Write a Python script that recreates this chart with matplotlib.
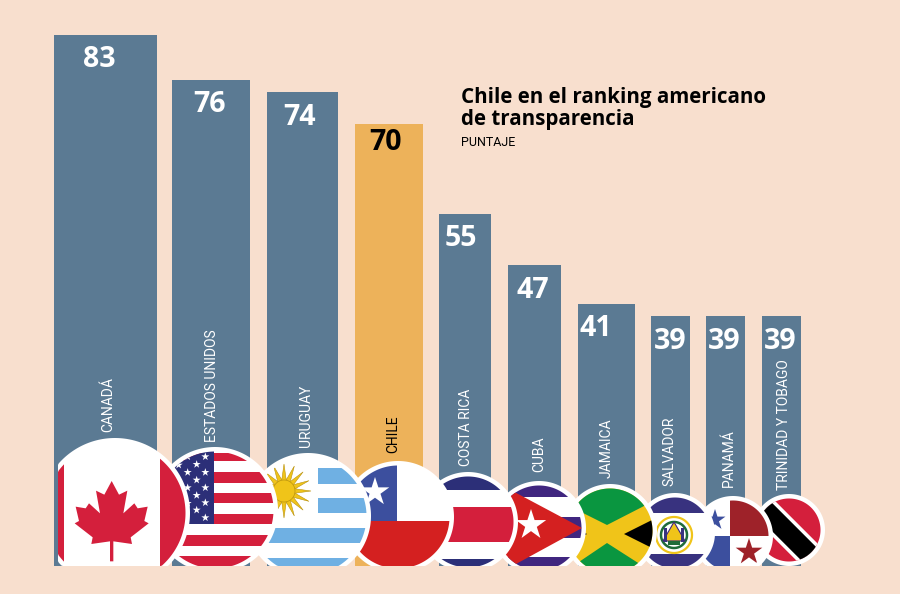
#!/usr/bin/env python3
"""Chile en el ranking americano de transparencia."""

import matplotlib

matplotlib.use("Agg")
import matplotlib.pyplot as plt
import numpy as np
from matplotlib.patches import Polygon

BG = "#f8dfce"
SLATE = "#5b7a93"
ORANGE = "#edb25a"
WHITE = "#ffffff"
FLAG_RED = "#d41f3c"
CHILE_RED = "#d42020"
NAVY = "#2c2f78"
ROYAL = "#3c4f9e"
PURPLE = "#40267f"
SKY = "#6fb0e3"
GOLD = "#f0c419"
GREEN = "#0a9640"
MAROON = "#9e2229"

countries = [
    "CANADÁ", "ESTADOS UNIDOS", "URUGUAY", "CHILE", "COSTA RICA",
    "CUBA", "JAMAICA", "SALVADOR", "PANAMÁ", "TRINIDAD Y TOBAGO",
]
scores = [83, 76, 74, 70, 55, 47, 41, 39, 39, 39]
# the source drew Chile's bar a little short of its printed score
bar_heights = [83, 76, 74, 69, 55, 47, 41, 39, 39, 39]

# layout, in pixels of the 900x594 picture
BASE_Y = 566
PX_PER_POINT = 6.4
bar_left = [54, 172, 267, 355, 439, 508, 578, 651, 706, 762]
bar_right = [157, 250, 338, 423, 491, 561, 635, 690, 745, 801]
score_x = [99, 210, 300, 386, 461, 533, 596, 670, 724, 780]
name_x = [108, 212, 306, 393, 466, 539, 607, 669, 729, 784]
name_bottom = [432, 442, 447, 453, 466, 472, 478, 486, 487, 490]
# cx, cy, r of the white ring around each flag
flag_disc = [
    (115, 513, 75), (215, 510, 63), (308, 516, 63), (398, 517, 56),
    (468, 522, 50), (539, 528, 47), (610, 531, 47), (675, 533, 40),
    (733, 536, 40), (789, 530, 36),
]
RING = 4.5

layer = [10]


def disc_points(cx, cy, r, left=0):
    t = np.linspace(0, 2 * np.pi, 240)
    x = np.clip(cx + r * np.cos(t), left, None)
    y = np.clip(cy + r * np.sin(t), None, BASE_Y)
    return np.column_stack([x, y])


def star_points(cx, cy, r, n=5, inner=0.382, turn=0.0):
    t = turn + np.arange(2 * n) * np.pi / n
    rad = np.where(np.arange(2 * n) % 2 == 0, r, r * inner)
    return np.column_stack([cx + rad * np.sin(t), cy - rad * np.cos(t)])


class Flag:
    """Shapes clipped to one round flag, stacked in drawing order."""

    def __init__(self, ax, cx, cy, r, left=0):
        self.ax = ax
        self.cx, self.cy, self.r = cx, cy, r
        ring = Polygon(disc_points(cx, cy, r, left), color=WHITE, lw=0, zorder=self.next_z())
        ax.add_patch(ring)
        self.clip = Polygon(
            disc_points(cx, cy, r - RING, left), color=WHITE, lw=0, zorder=self.next_z()
        )
        ax.add_patch(self.clip)

    def next_z(self):
        layer[0] += 1
        return layer[0]

    def poly(self, pts, color, **kw):
        patch = Polygon(pts, closed=True, facecolor=color, lw=kw.pop("lw", 0),
                        zorder=self.next_z(), **kw)
        self.ax.add_patch(patch)
        patch.set_clip_path(self.clip)
        return patch

    def box(self, x0, y0, x1, y1, color):
        return self.poly([(x0, y0), (x1, y0), (x1, y1), (x0, y1)], color)

    def stripe(self, y0, y1, color):
        return self.box(self.cx - self.r, y0, self.cx + self.r, y1, color)

    def band(self, a, b, width, color):
        (x0, y0), (x1, y1) = a, b
        n = np.array([y1 - y0, x0 - x1], dtype=float)
        n = n / np.hypot(*n) * width / 2
        return self.poly(
            [(x0 + n[0], y0 + n[1]), (x1 + n[0], y1 + n[1]),
             (x1 - n[0], y1 - n[1]), (x0 - n[0], y0 - n[1])],
            color,
        )


def canada(f):
    f.box(40, 430, 64, 570, FLAG_RED)
    f.box(160, 430, 195, 570, FLAG_RED)
    # half a maple leaf in crop coordinates, mirrored about the stem
    right = [
        (215, 183), (237, 224), (262, 212), (250, 280), (283, 250), (293, 265),
        (323, 260), (313, 303), (326, 310), (272, 352), (276, 372), (220, 364),
        (220, 424),
    ]
    left = [(430 - x, y) for x, y in right[::-1]]
    f.poly([(40 + x / 3, 420 + y / 3) for x, y in right + left], FLAG_RED)


def usa(f):
    for y0, y1 in [(453, 461), (472, 482.5), (493, 503), (514, 524), (535, 546), (556, 567)]:
        f.stripe(y0, y1, FLAG_RED)
    f.box(150, 445, 214, 524, NAVY)
    stars = [
        (496, 110), (470, 133), (443, 157), (496, 157), (470, 180), (443, 203), (496, 203),
        (470, 226), (496, 248), (443, 250), (470, 270), (496, 293), (416, 135), (443, 110),
    ]
    for x, y in stars:
        f.poly(star_points(40 + x / 3, 420 + y / 3, 4.2), WHITE)


def uruguay(f):
    f.box(318, 468, 380, 484, SKY)
    f.box(318, 498, 380, 513, SKY)
    f.stripe(528, 543, SKY)
    f.stripe(558, 567, SKY)
    f.poly(star_points(284, 491, 27, n=16, inner=0.42), GOLD, edgecolor="#b9920f", lw=0.4)
    f.poly(disc_points(284, 491, 11), GOLD, edgecolor="#b9920f", lw=0.5)


def chile(f):
    f.box(340, 450, 397, 521, ROYAL)
    f.stripe(521, 567, CHILE_RED)
    f.poly(star_points(375, 492, 15), WHITE)


def costa_rica(f):
    f.stripe(470, 490, NAVY)
    f.stripe(507, 542, FLAG_RED)
    f.stripe(559, 567, NAVY)


def cuba(f):
    f.stripe(480, 497, PURPLE)
    f.stripe(517, 538, PURPLE)
    f.stripe(557, 567, PURPLE)
    f.poly([(505, 487), (582, 528), (505, 570)], CHILE_RED)
    f.poly(star_points(531, 525, 16), WHITE)


def jamaica(f):
    f.stripe(480, 570, GOLD)
    f.poly([(607, 525), (646, 505), (646, 480), (565, 480), (565, 504)], GREEN)
    f.poly([(607, 543), (646, 568), (570, 568)], GREEN)
    f.poly([(624, 534), (660, 516), (660, 552)], "#000000")
    f.poly([(587, 534), (565, 522), (565, 546)], "#000000")


def salvador(f):
    f.stripe(490, 513, "#38327f")
    f.stripe(554, 567, "#38327f")
    f.poly(disc_points(674, 535, 18), WHITE, edgecolor=GOLD, lw=1.6)
    f.poly(disc_points(674, 535, 13), WHITE, edgecolor="#1f6b3a", lw=1.8)
    f.poly([(674, 522), (685, 541), (663, 541)], GOLD, edgecolor=PURPLE, lw=0.8)
    f.box(664, 528, 667, 542, "#38327f")
    f.box(681, 528, 684, 542, "#38327f")
    f.box(668, 541, 680, 545, "#1f6b3a")


def panama(f):
    f.box(730, 490, 780, 536, MAROON)
    f.box(690, 536, 730, 570, ROYAL)
    f.poly(star_points(715, 520, 11), ROYAL)
    f.poly(star_points(749, 552, 14), MAROON)


def trinidad(f):
    f.stripe(490, 570, FLAG_RED)
    f.band((748, 493), (826, 571), 27, WHITE)
    f.band((748, 493), (826, 571), 20, "#000000")


flag_painters = [canada, usa, uruguay, chile, costa_rica, cuba, jamaica, salvador, panama, trinidad]


def main():
    fig = plt.figure(figsize=(9, 5.94), dpi=100, facecolor=BG)

    # bars live on a score scale, everything else on a pixel scale
    ax = fig.add_axes([0, 0, 1, 1])
    ax.set_xlim(0, 900)
    ax.set_ylim(-(594 - BASE_Y) / PX_PER_POINT, BASE_Y / PX_PER_POINT)
    ax.axis("off")
    left = np.array(bar_left)
    right = np.array(bar_right)
    colors = [ORANGE if name == "CHILE" else SLATE for name in countries]
    ax.bar((left + right) / 2, bar_heights, right - left, color=colors, linewidth=0)
    for x, score, name in zip(score_x, scores, countries):
        ax.text(
            x, score - 25 / PX_PER_POINT, str(score), ha="center", va="center",
            fontsize=20.5, fontweight="bold", family="Open Sans",
            color="#000000" if name == "CHILE" else WHITE,
        )

    px = fig.add_axes([0, 0, 1, 1])
    px.set_xlim(0, 900)
    px.set_ylim(594, 0)
    px.axis("off")
    px.patch.set_alpha(0)

    for i in reversed(range(len(countries))):
        cx, cy, r = flag_disc[i]
        flag_painters[i](Flag(px, cx, cy, r, left=58 if i == 0 else 0))

    for x, y, name in zip(name_x, name_bottom, countries):
        px.text(
            x, y, name, rotation=90, ha="center", va="bottom", fontsize=10,
            family="Roboto", color="#000000" if name == "CHILE" else WHITE,
        )

    px.text(461, 98, "Chile en el ranking americano", fontsize=14.8, fontweight="bold",
            family="Open Sans", va="center", color="#000000")
    px.text(461, 119, "de transparencia", fontsize=14.8, fontweight="bold",
            family="Open Sans", va="center", color="#000000")
    px.text(461, 142, "PUNTAJE", fontsize=9, family="Roboto", va="center", color="#000000")

    fig.savefig("out.png", dpi=100, facecolor=BG)


if __name__ == "__main__":
    main()
